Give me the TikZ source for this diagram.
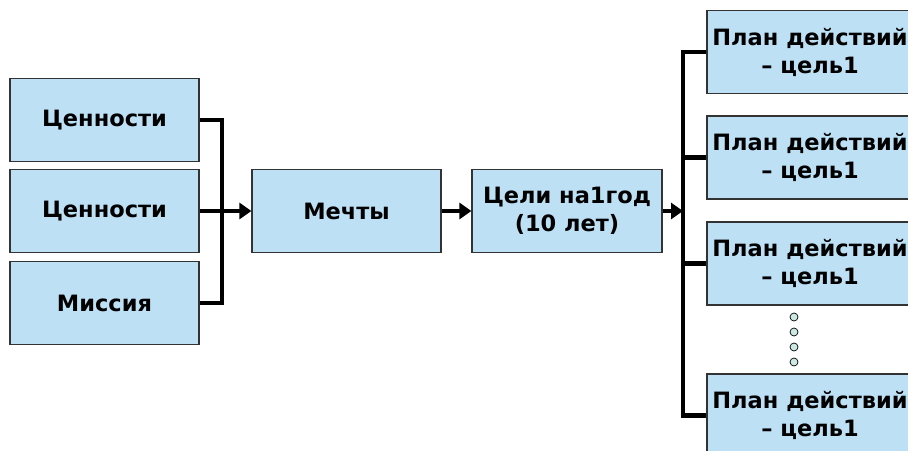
\documentclass[tikz,border=0pt]{standalone}
\usepackage{fontspec}
\setmainfont{DejaVu Sans}
\usetikzlibrary{arrows.meta}
\definecolor{boxfill}{HTML}{BDE0F5}
\definecolor{dotfill}{HTML}{CCE8E2}
\begin{document}
\begin{tikzpicture}[x=1pt,y=-1pt,
  box/.style={draw=black!80,line width=1.2pt,fill=boxfill,minimum width=189pt,minimum height=83pt,
    align=center,font=\fontsize{22.5}{28}\selectfont\bfseries,inner sep=0pt},
  pbox/.style={box,minimum width=206pt},
  conn/.style={line width=4.2pt,line cap=butt,line join=miter},
  arr/.style={conn,-{Triangle[length=12pt,width=16pt]}},
  dot/.style={circle,draw=black,line width=0.7pt,fill=dotfill,minimum size=8pt,inner sep=0pt}]
\useasboundingbox (0,0) rectangle (908,450);
\clip (0,0) rectangle (908,450);
\node[box] (v1) at (104.5,120) {Ценности};
\node[box] (v2) at (104.5,211) {Ценности};
\node[box] (mi) at (104.5,303) {Миссия};
\node[box] (dr) at (346.5,211) {Мечты};
\node[box,minimum width=190pt] (g) at (567,211) {Цели на1год\\(10 лет)};
\node[pbox] (p1) at (810,52) {План действий\\– цель1};
\node[pbox] (p2) at (810,157.5) {План действий\\– цель1};
\node[pbox] (p3) at (810,263.5) {План действий\\– цель1};
\node[pbox] (p4) at (810,415.5) {План действий\\– цель1};
\coordinate (lbx) at (222,120);
\coordinate (rbx) at (683,52);
\draw[conn] (v1.east) -| (lbx) |- (mi.east);
\draw[arr] (v2.east) -- (dr.west);
\draw[arr] (dr.east) -- (g.west);
\draw[arr] (g.east) -- (g.east -| rbx);
\draw[conn] (p1.west) -| (rbx) |- (p4.west);
\draw[conn] (p2.west) -- (p2.west -| rbx);
\draw[conn] (p3.west) -- (p3.west -| rbx);
\node[dot] (d1) at (794,317) {};
\node[dot] (d2) at (794,332) {};
\node[dot] (d3) at (794,347) {};
\node[dot] (d4) at (794,362) {};
\end{tikzpicture}
\end{document}
